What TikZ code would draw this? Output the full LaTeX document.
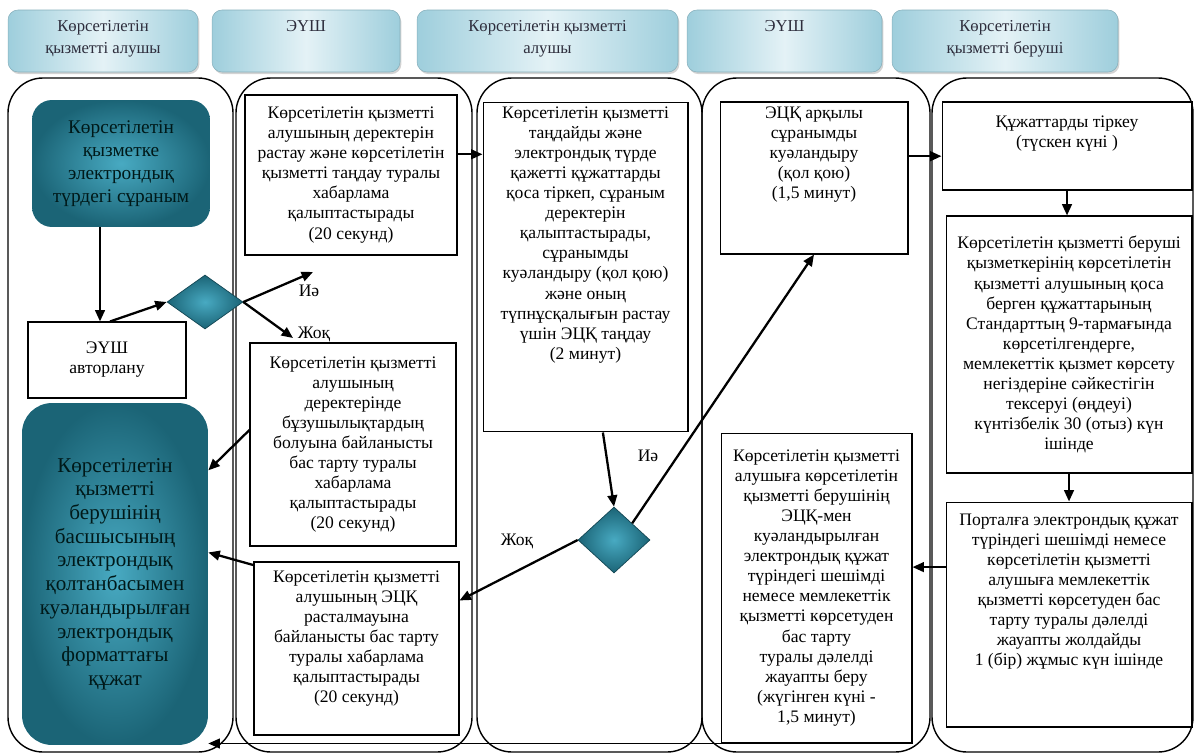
\documentclass[tikz,border=0pt]{standalone}
\usepackage{fontspec}
\setmainfont{Liberation Serif}
\usetikzlibrary{arrows.meta, positioning, shapes.geometric, shadows, calc}
\definecolor{tealdark}{RGB}{27,100,118}
\definecolor{teallight}{RGB}{72,170,194}
\definecolor{headside}{RGB}{158,206,220}
\definecolor{headmid}{RGB}{228,242,246}
\definecolor{headtext}{RGB}{45,45,60}
\tikzset{
    lane/.style={draw, line width=0.8pt, rounded corners=0.7cm},
    header/.style={rounded corners=0.2cm, left color=headside, right color=headside, middle color=headmid,
        draw=headside!85!black, line width=0.3pt,
        drop shadow={shadow xshift=0.8pt, shadow yshift=-1.2pt, opacity=0.35}},
    headtxt/.style={align=center, text=headtext, font=\fontsize{9.5}{12.5}\selectfont, inner sep=1pt},
    tealbox/.style={inner color=teallight, outer color=tealdark, align=center, text=black!80!teal},
    whitebox/.style={draw, line width=0.6pt, fill=white, align=center, font=\fontsize{10}{11.4}\selectfont, inner sep=2pt},
    boxtxt/.style={align=center, font=\fontsize{10}{11.4}\selectfont, inner sep=1pt},
    decision/.style={diamond, inner sep=0pt, inner color=teallight, outer color=tealdark, draw=tealdark!70!black, line width=0.4pt},
    flow/.style={-{Triangle[length=6.5pt,width=5.5pt]}, line width=1.3pt},
    answer/.style={font=\fontsize{10}{12}\selectfont}
}

\begin{document}
\begin{tikzpicture}[x=0.02cm, y=-0.02cm]
  \useasboundingbox (0,0) rectangle (1195,753);
  \foreach \l/\r in {8/233, 236/472, 477/702, 702/930, 932/1193}
    \draw[lane] (\l,78) rectangle (\r,752);

  \node[header, minimum width=3.8cm, minimum height=1.24cm] (h1) at (103,41) {};
  \node[header, minimum width=3.76cm, minimum height=1.24cm] (h2) at (306,41) {};
  \node[header, minimum width=5.22cm, minimum height=1.24cm] (h3) at (547.5,41) {};
  \node[header, minimum width=3.9cm, minimum height=1.24cm] (h4) at (784.5,41) {};
  \node[header, minimum width=4.52cm, minimum height=1.24cm] (h5) at (1005,41) {};
  \node[headtxt, below=5pt of h1.north] (h1txt) {Көрсетілетін\\қызметті алушы};
  \node[headtxt, below=5pt of h2.north] (h2txt) {ЭҮШ};
  \node[headtxt, below=5pt of h3.north] (h3txt) {Көрсетілетін қызметті\\алушы};
  \node[headtxt, below=5pt of h4.north] (h4txt) {ЭҮШ};
  \node[headtxt, below=5pt of h5.north] (h5txt) {Көрсетілетін\\қызметті беруші};

  \node[tealbox, rounded corners=0.4cm, minimum width=3.56cm, minimum height=2.54cm,
    font=\fontsize{11}{13}\selectfont] (req) at (121,163.5)
    {Көрсетілетін\\қызметке\\электрондық\\түрдегі сұраным};
  \node[whitebox, minimum width=3.16cm, minimum height=1.52cm] (auth) at (107,360) {ЭҮШ\\авторлану};
  \node[decision, minimum width=1.52cm, minimum height=1.08cm] (d1) at (205,302) {};
  \node[tealbox, rounded corners=0.6cm, minimum width=3.72cm, minimum height=6.84cm,
    font=\fontsize{12}{13.5}\selectfont] (doc) at (115,574)
    {Көрсетілетін\\қызметті\\берушінің\\басшысының\\электрондық\\қолтанбасымен\\куәландырылған\\электрондық\\форматтағы\\құжат};

  \node[whitebox, minimum width=4.24cm, minimum height=3.2cm] (n2a) at (351,175)
    {Көрсетілетін қызметті\\алушының деректерін\\растау және көрсетілетін\\қызметті таңдау туралы\\хабарлама\\қалыптастырады\\(20 секунд)};
  \node[whitebox, minimum width=4.12cm, minimum height=4.06cm] (n2b) at (353,444.5)
    {Көрсетілетін қызметті\\алушының\\деректерінде\\бұзушылықтардың\\болуына байланысты\\бас тарту туралы\\хабарлама\\қалыптастырады\\(20 секунд)};
  \node[whitebox, minimum width=4.1cm, minimum height=3.46cm] (n2c) at (356.5,648.5) {};
  \node[boxtxt, below=4pt of n2c.north] (n2ctxt)
    {Көрсетілетін қызметті\\алушының ЭЦҚ\\расталмауына\\байланысты бас тарту\\туралы хабарлама\\қалыптастырады\\(20 секунд)};

  \node[whitebox, minimum width=4.1cm, minimum height=6.6cm] (n3) at (585.5,267) {};
  \node[boxtxt, below=2pt of n3.north] (n3txt)
    {Көрсетілетін қызметті\\таңдайды және\\электрондық түрде\\қажетті құжаттарды\\қоса тіркеп, сұраным\\деректерін\\қалыптастырады,\\сұранымды\\куәландыру (қол қою)\\және оның\\түпнұсқалығын растау\\үшін ЭЦҚ таңдау\\(2 минут)};
  \node[decision, minimum width=1.44cm, minimum height=1.32cm] (d2) at (614,540) {};

  \node[whitebox, minimum width=3.76cm, minimum height=3.04cm] (n4a) at (814,178) {};
  \node[boxtxt, below=2pt of n4a.north] (n4atxt)
    {ЭЦҚ арқылы\\сұранымды\\куәландыру\\(қол қою)\\(1,5 минут)};
  \node[whitebox, minimum width=3.82cm, minimum height=6.2cm] (n4b) at (816.5,588)
    {Көрсетілетін қызметті\\алушыға көрсетілетін\\қызметті берушінің\\ЭЦҚ-мен\\куәландырылған\\электрондық құжат\\түріндегі шешімді\\немесе мемлекеттік\\қызметті көрсетуден\\бас тарту\\туралы дәлелді\\жауапты беру\\(жүгінген күні -\\1,5 минут)};

  \node[whitebox, minimum width=5cm, minimum height=1.76cm] (n5a) at (1067,146) {};
  \node[boxtxt, below=7pt of n5a.north] (n5atxt) {Құжаттарды тіркеу\\(түскен күні )};
  \node[whitebox, minimum width=4.92cm, minimum height=5.14cm] (n5b) at (1069,344.5)
    {Көрсетілетін қызметті беруші\\қызметкерінің көрсетілетін\\қызметті алушының қоса\\берген құжаттарының\\Стандарттың 9-тармағында\\көрсетілгендерге,\\мемлекеттік қызмет көрсету\\негіздеріне сәйкестігін\\тексеруі (өңдеуі)\\күнтізбелік 30 (отыз) күн\\ішінде};
  \node[whitebox, minimum width=4.92cm, minimum height=4.5cm] (n5c) at (1069,614.5) {};
  \node[boxtxt, below=6pt of n5c.north] (n5ctxt)
    {Порталға электрондық құжат\\түріндегі шешімді немесе\\көрсетілетін қызметті\\алушыға мемлекеттік\\қызметті көрсетуден бас\\тарту туралы дәлелді\\жауапты жолдайды\\1 (бір) жұмыс күн ішінде};

  \coordinate (yes1) at (313,272);
  \coordinate (no1) at (293,338);
  \draw[flow] ($(req.south -| auth.north)+(-7,0)$) -- ($(auth.north)+(-7,0)$);
  \draw[flow] ($(auth.north)+(3,0)$) -- (d1.west);
  \draw[flow] (d1.east) -- (yes1);
  \draw[flow] (d1.east) -- (no1);
  \node[answer] (yes1lbl) at (309,291) {Иә};
  \node[answer] (no1lbl) at (314,334) {Жоқ};
  \draw[flow] (n2b.172) -- (doc.48);
  \draw[flow] (n2c.141) -- (doc.13);
  \draw[flow] (n2a.11) -- (n2a.11 -| n3.west);
  \draw[flow] (n3.-84) -- (d2.north);
  \draw[flow] (d2.north east) -- (n4a.south);
  \draw[flow] (d2.west) -- (n2c.25);
  \node[answer] (yes2lbl) at (648,456) {Иә};
  \node[answer] (no2lbl) at (517,541) {Жоқ};
  \draw[flow] (n4a.13) -- (n4a.13 -| n5a.west);
  \draw[flow] (n5a.south) -- (n5a.south |- n5b.north);
  \draw[flow] (n5b.south) -- (n5b.south |- n5c.north);
  \draw[flow] (n5c.159) -- (n5c.159 -| n4b.east);
  \draw[flow, line width=1pt] (n4b.south west) -- (n4b.south west -| doc.east);
\end{tikzpicture}
\end{document}
